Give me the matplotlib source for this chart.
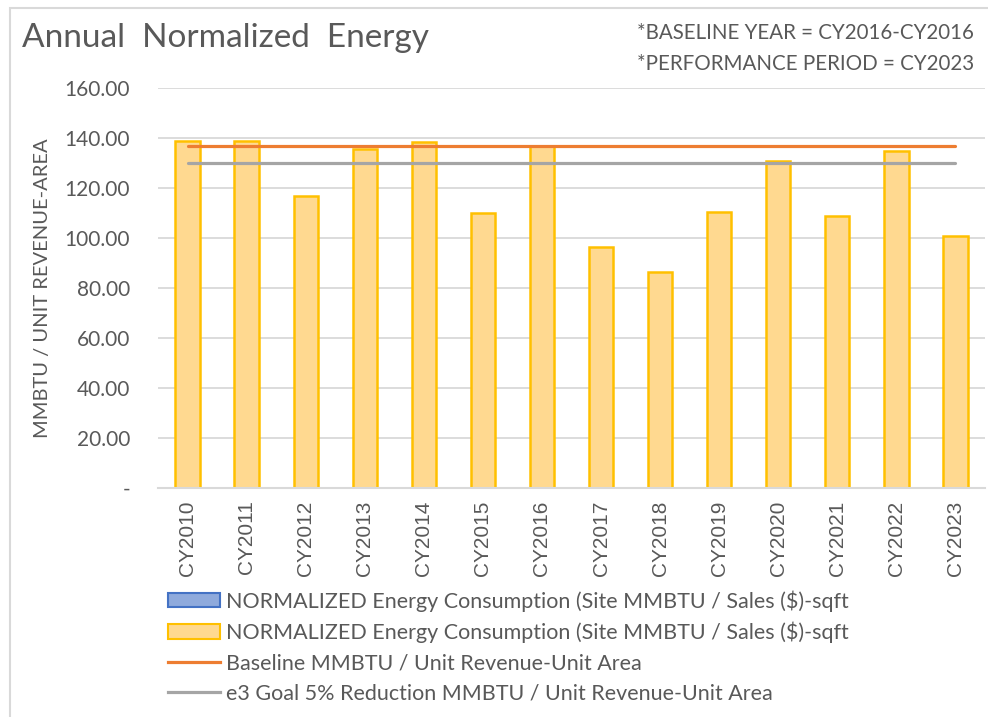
import matplotlib
matplotlib.use("Agg")
from matplotlib import pyplot as plt
from matplotlib.patches import Patch, Rectangle
from matplotlib.lines import Line2D

# data
years = ["CY2010", "CY2011", "CY2012", "CY2013", "CY2014", "CY2015", "CY2016",
         "CY2017", "CY2018", "CY2019", "CY2020", "CY2021", "CY2022", "CY2023"]
normalized = [139.0, 139.0, 116.7, 135.8, 138.6, 110.1, 136.8,
              96.3, 86.6, 110.5, 131.0, 109.0, 134.7, 100.8]
baseline = 136.8
goal = baseline * 0.95

labels = ["NORMALIZED Energy Consumption (Site MMBTU / Sales ($)-sqft",
          "NORMALIZED Energy Consumption (Site MMBTU / Sales ($)-sqft",
          "Baseline MMBTU / Unit Revenue-Unit Area",
          "e3 Goal 5% Reduction MMBTU / Unit Revenue-Unit Area"]

TXT = "#595959"
GRID = "#D9D9D9"
FONT = ["Lato", "DejaVu Sans"]

fig = plt.figure(figsize=(9.88, 7.17), dpi=100)
fig.patches.append(Rectangle((10 / 988, -0.1), 1.2, 1 - 8 / 717 + 0.1,
                             transform=fig.transFigure, fill=False,
                             edgecolor=GRID, linewidth=1.5))

ax = fig.add_axes([158 / 988, 1 - 488 / 717, (985 - 158) / 988, (488 - 88) / 717])
x = list(range(len(years)))
ax.bar(x, normalized, width=0.41, color="#FFD990", edgecolor="#FFC000",
       linewidth=1.8, zorder=2)
ax.plot([x[0], x[-1]], [baseline, baseline], color="#ED7D31", lw=2.3,
        solid_capstyle="round", zorder=3)
ax.plot([x[0], x[-1]], [goal, goal], color="#A5A5A5", lw=2.3,
        solid_capstyle="round", zorder=3)

ax.set_xlim(-0.5, len(years) - 0.5)
ax.set_ylim(0, 160)
ax.set_yticks(range(0, 161, 20))
ax.set_yticklabels(["-"] + [f"{v:.2f}" for v in range(20, 161, 20)],
                   family=FONT, fontsize=15, color=TXT)
ax.set_xticks(x)
ax.set_xticklabels(years, rotation=90, family=["Liberation Sans"],
                   fontsize=15, color=TXT)
ax.tick_params(axis="y", length=0, pad=20)
ax.tick_params(axis="x", length=0, pad=9)
ax.grid(axis="y", color=GRID, lw=1.3, zorder=0)
for s in ["top", "right", "left"]:
    ax.spines[s].set_visible(False)
ax.spines["bottom"].set_color(GRID)
ax.spines["bottom"].set_linewidth(1.5)
ax.set_ylabel("MMBTU / UNIT REVENUE-AREA", family=FONT, fontsize=14.5,
              color=TXT)
ax.yaxis.set_label_coords(-107 / 827, 0.5)

fig.text(22 / 988, 1 - 38 / 717, "Annual  Normalized  Energy", family=FONT,
         fontsize=24, color=TXT, va="center")
fig.text(637 / 988, 1 - 33 / 717, "*BASELINE YEAR = CY2016-CY2016", family=FONT,
         fontsize=14.8, color=TXT, va="center")
fig.text(637 / 988, 1 - 64 / 717, "*PERFORMANCE PERIOD = CY2023", family=FONT,
         fontsize=14.8, color=TXT, va="center")

handles = [Patch(facecolor="#8FAADC", edgecolor="#4472C4", linewidth=1.5),
           Patch(facecolor="#FFD990", edgecolor="#FFC000", linewidth=1.5),
           Line2D([], [], color="#ED7D31", lw=2.3),
           Line2D([], [], color="#A5A5A5", lw=2.3)]
fig.legend(handles, labels, loc="upper left",
           bbox_to_anchor=(168 / 988, 1 - 590 / 717), frameon=False,
           prop={"family": FONT, "size": 15.5}, labelcolor=TXT,
           handlelength=2.4, handleheight=0.65, handletextpad=0.28,
           labelspacing=0.47, borderpad=0, borderaxespad=0)

fig.savefig("out.png", dpi=100)
